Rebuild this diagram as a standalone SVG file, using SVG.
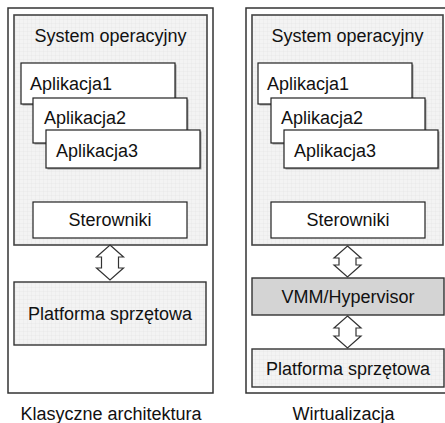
<svg xmlns="http://www.w3.org/2000/svg" width="445" height="423" viewBox="0 0 445 423">
<defs>
<pattern id="grid" width="4" height="4" patternUnits="userSpaceOnUse">
<rect width="4" height="4" fill="#f3f3f3"/>
<path d="M4 0V4M0 4H4" fill="none" stroke="#e2e2e2" stroke-width="0.6"/>
</pattern>
</defs>
<style>
.outer{fill:#fff;stroke:#333;stroke-width:1.5}
.os{fill:url(#grid);stroke:#444;stroke-width:1.6}
.gridbox{fill:url(#grid);stroke:#333;stroke-width:1.4}
.vmm{fill:#d4d4d4;stroke:#333;stroke-width:1.4}
.app{fill:#fff;stroke:#222;stroke-width:1.2}
.shadow{fill:#999}
.arrow{fill:#fff;stroke:#333;stroke-width:1.2;stroke-linejoin:miter}
text{font-family:"Liberation Sans",Arial,sans-serif;font-size:18px;fill:#111}
.c{text-anchor:middle}
</style>
<g id="left-frame">
<rect class="outer" x="8" y="8" width="205" height="385"/>
</g>
<g id="right-frame">
<rect class="outer" x="246" y="8" width="203" height="385"/>
</g>
<g id="left-os">
<rect class="os" x="14" y="15" width="193" height="230"/>
<text class="c" x="110.5" y="42">System operacyjny</text>
</g>
<g id="left-app1">
<rect class="shadow" x="22.5" y="64.5" width="154" height="41"/>
<rect class="app" x="21" y="63" width="154" height="41"/>
<text x="30" y="90">Aplikacja1</text>
</g>
<g id="left-app2">
<rect class="shadow" x="34.5" y="99.5" width="154" height="45"/>
<rect class="app" x="33" y="98" width="154" height="45"/>
<text x="44" y="124">Aplikacja2</text>
</g>
<g id="left-app3">
<rect class="shadow" x="47.5" y="131.5" width="154" height="38"/>
<rect class="app" x="46" y="130" width="154" height="38"/>
<text x="56" y="157">Aplikacja3</text>
</g>
<g id="left-drivers">
<rect class="app" x="33" y="202" width="154" height="36"/>
<text class="c" x="110" y="226">Sterowniki</text>
</g>
<g id="left-hw">
<rect class="gridbox" x="14" y="282" width="192" height="63"/>
<text class="c" x="110" y="320">Platforma sprzętowa</text>
</g>
<g id="right-os">
<rect class="os" x="252" y="15" width="191" height="230"/>
<text class="c" x="347.5" y="42">System operacyjny</text>
</g>
<g id="right-app1">
<rect class="shadow" x="259.5" y="64.5" width="154" height="41"/>
<rect class="app" x="258" y="63" width="154" height="41"/>
<text x="267" y="90">Aplikacja1</text>
</g>
<g id="right-app2">
<rect class="shadow" x="272.5" y="99.5" width="154" height="45"/>
<rect class="app" x="271" y="98" width="154" height="45"/>
<text x="281" y="124">Aplikacja2</text>
</g>
<g id="right-app3">
<rect class="shadow" x="285.5" y="131.5" width="154" height="38"/>
<rect class="app" x="284" y="130" width="154" height="38"/>
<text x="294" y="157">Aplikacja3</text>
</g>
<g id="right-drivers">
<rect class="app" x="271" y="202" width="154" height="36"/>
<text class="c" x="348" y="226">Sterowniki</text>
</g>
<g id="right-vmm">
<rect class="vmm" x="252" y="278" width="192" height="37"/>
<text class="c" x="348" y="303">VMM/Hypervisor</text>
</g>
<g id="right-hw">
<rect class="gridbox" x="252" y="349" width="192" height="38"/>
<text class="c" x="348" y="375">Platforma sprzętowa</text>
</g>
<g id="connectors">
<path class="arrow" d="M110 245L123.5 257H118.5V268H123.5L110 280L96.5 268H101.5V257H96.5Z"/>
<path class="arrow" d="M347.5 246L361 258H356V265H361L347.5 277L334 265H339V258H334Z"/>
<path class="arrow" d="M347.5 316L361 328H356V336H361L347.5 348L334 336H339V328H334Z"/>
</g>
<g id="captions">
<text class="c" x="111" y="420">Klasyczne architektura</text>
<text class="c" x="343.5" y="420">Wirtualizacja</text>
</g>
</svg>
